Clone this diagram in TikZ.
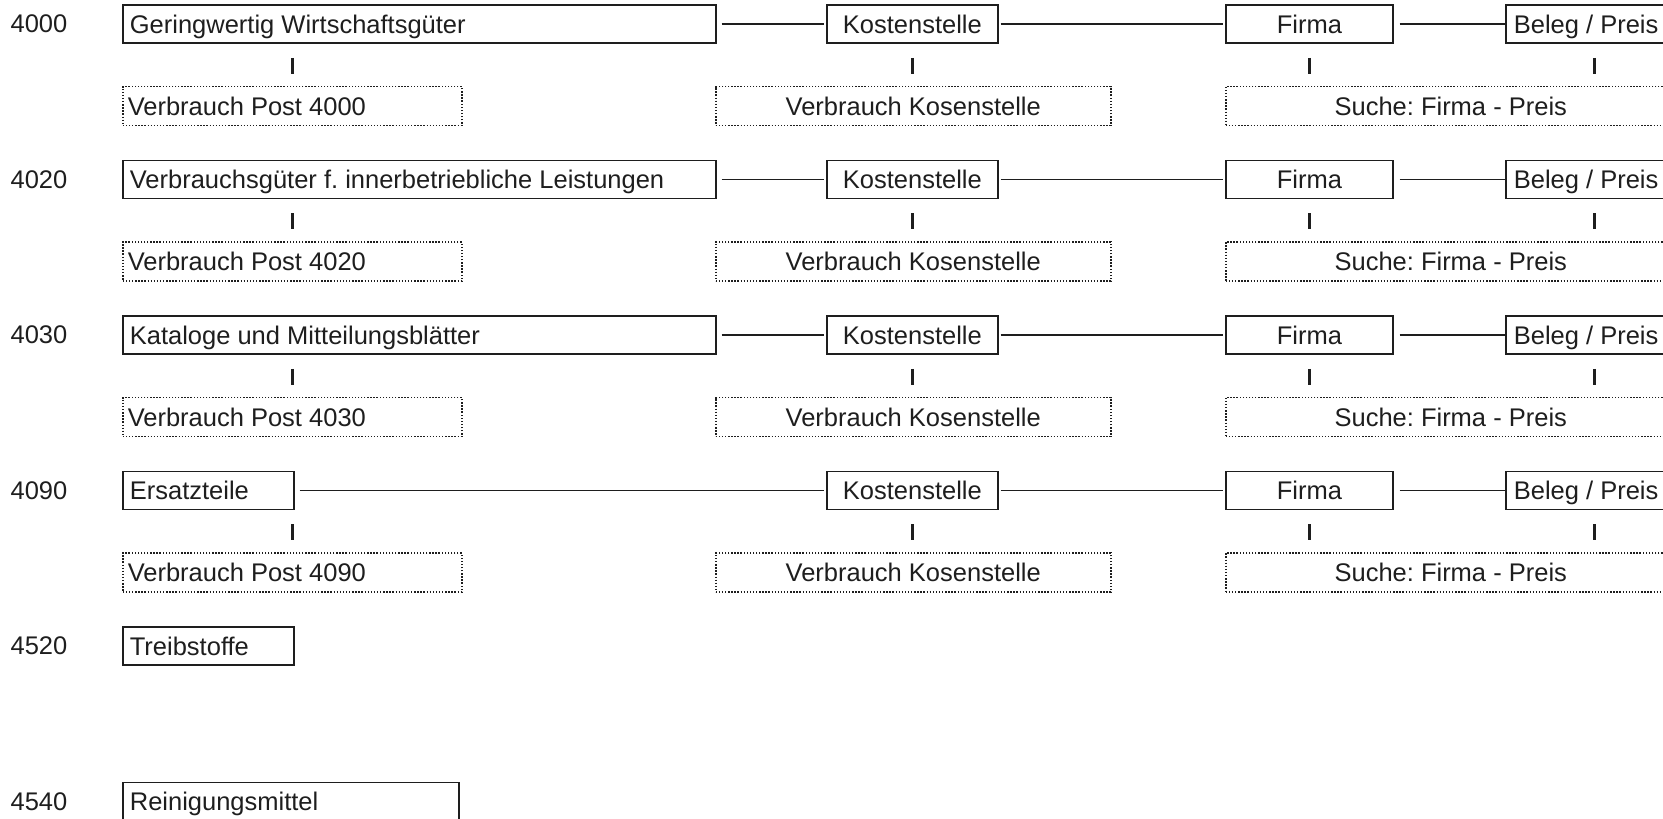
\documentclass[tikz,border=0pt]{standalone}
\usepackage{fontspec}
\setmainfont{Liberation Sans}
\frenchspacing
\definecolor{ink}{RGB}{30,30,30}
\tikzset{
  every node/.style={font=\fontsize{25.5}{30}\selectfont, text=ink},
  box/.style={draw=ink, line width=1.7pt, minimum height=38pt, inner sep=0pt, anchor=west, text height=22pt, text depth=3.7pt},
  lbox/.style={box, inner xsep=7pt},
  cbox/.style={box, align=center, minimum width=#1},
  dbox/.style={draw=ink, line width=1.5pt, dash pattern=on 1.4pt off 1.7pt, minimum height=39pt, inner sep=0pt, anchor=west, text height=22pt, text depth=3.7pt},
  ldbox/.style={dbox, inner xsep=5pt},
  cdbox/.style={dbox, align=center, minimum width=#1},
  conn/.style={draw=ink, line width=1.5pt},
  tickline/.style={draw=ink, line width=2.8pt, shorten <=14pt, shorten >=12pt},
  num/.style={anchor=center},
}
\newcommand{\lefttext}[2]{\makebox[#1][l]{#2}}
\begin{document}
\begin{tikzpicture}[x=1pt,y=-1pt]
\useasboundingbox (0,0) rectangle (1663,819);
\foreach \i/\num/\txt/\w in {1/4000/Geringwertig Wirtschaftsgüter/593,
                            2/4020/Verbrauchsgüter f. innerbetriebliche Leistungen/593,
                            3/4030/Kataloge und Mitteilungsblätter/593,
                            4/4090/Ersatzteile/171}{
  \pgfmathsetmacro\yc{24+155.5*(\i-1)}
  \pgfmathsetmacro\yd{\yc+82}
  \pgfmathsetmacro\tw{\w-14}
  \node[num] (n\i) at (39,\yc) {\num};
  \node[lbox] (m\i) at (122,\yc) {\lefttext{\tw pt}{\txt}};
  \node[cbox=171pt] (k\i) at (826,\yc) {Kostenstelle};
  \node[cbox=167pt] (f\i) at (1225,\yc) {Firma};
  \node[lbox, inner xsep=8pt] (b\i) at (1505,\yc) {\lefttext{161pt}{Beleg / Preis}};
  \node[ldbox] (v\i) at (122,\yd) {\lefttext{329pt}{Verbrauch Post \num}};
  \node[cdbox=395pt] (vk\i) at (715,\yd) {Verbrauch Kosenstelle};
  \node[cdbox=450pt] (s\i) at (1225,\yd) {Suche: Firma - Preis};
  \draw[conn, shorten <=5pt, shorten >=2pt] (m\i.east) -- (k\i.west);
  \draw[conn, shorten <=2pt, shorten >=2pt] (k\i.east) -- (f\i.west);
  \draw[conn, shorten <=6pt] (f\i.east) -- (b\i.west);
  \draw[tickline] (v\i.north |- m\i.south) -- (v\i.north);
  \draw[tickline] (k\i.south) -- (k\i.south |- vk\i.north);
  \draw[tickline] (f\i.south) -- (f\i.south |- s\i.north);
  \draw[tickline] (b\i.south) -- (b\i.south |- s\i.north);
}
\node[num] (n5) at (39,646) {4520};
\node[lbox] (m5) at (122,646) {\lefttext{157pt}{Treibstoffe}};
\node[num] (n6) at (39,801.5) {4540};
\node[lbox] (m6) at (122,801.5) {\lefttext{322pt}{Reinigungsmittel}};
\end{tikzpicture}
\end{document}
